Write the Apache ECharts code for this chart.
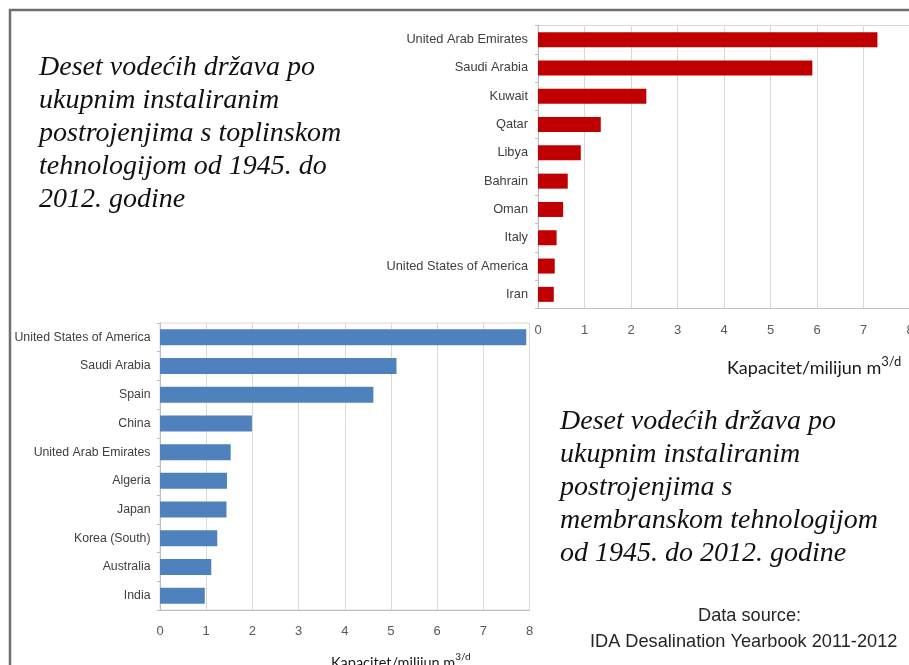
<!DOCTYPE html>
<html>
<head>
<meta charset="utf-8">
<script src="https://cdn.jsdelivr.net/npm/echarts@6.0.0/dist/echarts.min.js"></script>
<style>
html, body { margin: 0; padding: 0; background: #fff; }
#chart { width: 909px; height: 665px; }
</style>
</head>
<body>
<div id="chart"></div>
<script>
// top chart: thermal plants (red), bottom chart: membrane plants (blue)
const thermalCountries = ['United Arab Emirates', 'Saudi Arabia', 'Kuwait', 'Qatar', 'Libya', 'Bahrain', 'Oman', 'Italy', 'United States of America', 'Iran'];
const thermalCapacity = [7.30, 5.90, 2.33, 1.35, 0.92, 0.64, 0.54, 0.40, 0.36, 0.34];

const membraneCountries = ['United States of America', 'Saudi Arabia', 'Spain', 'China', 'United Arab Emirates', 'Algeria', 'Japan', 'Korea (South)', 'Australia', 'India'];
const membraneCapacity = [7.93, 5.12, 4.62, 1.99, 1.53, 1.45, 1.44, 1.24, 1.11, 0.97];

const capacityTicks = [0, 1, 2, 3, 4, 5, 6, 7, 8];

const thermalCaption = ['Deset vodećih država po', 'ukupnim instaliranim', 'postrojenjima s toplinskom', 'tehnologijom od 1945. do', '2012. godine'];
const membraneCaption = ['Deset vodećih država po', 'ukupnim instaliranim', 'postrojenjima s', 'membranskom tehnologijom', 'od 1945. do 2012. godine'];

const serifFont = '"Liberation Serif", serif';
const sansFont = '"Liberation Sans", Arial, sans-serif';
const nameFont = 'Lato, "Open Sans", sans-serif';

function valueAxis(gridIndex, margin) {
    return {
        type: 'value',
        gridIndex: gridIndex,
        min: capacityTicks[0],
        max: capacityTicks[capacityTicks.length - 1],
        interval: 1,
        axisLine: { show: true, lineStyle: { color: '#bfbfbf' } },
        axisTick: { show: false },
        axisLabel: { color: '#595959', fontFamily: sansFont, fontSize: 13, margin: margin },
        splitLine: { show: true, lineStyle: { color: '#d9d9d9' } }
    }
}

function categoryAxis(gridIndex, data, fontSize, margin) {
    return {
        type: 'category',
        gridIndex: gridIndex,
        data: data,
        inverse: true,
        axisLine: { show: true, lineStyle: { color: '#bfbfbf' } },
        axisTick: { show: true, length: 3, lineStyle: { color: '#bfbfbf' } },
        axisLabel: { color: '#404040', fontFamily: sansFont, fontSize: fontSize, margin: margin },
        splitLine: { show: false }
    }
}

const echartEl = document.getElementById('chart')
const echartInstance = echarts.init(echartEl, null, { renderer: 'canvas' })

const option = {
    animation: false,
    backgroundColor: '#fff',
    grid: [
        { left: 538, top: 25.5, width: 372, height: 283, outerBoundsMode: 'none', containLabel: false, show: true, borderColor: '#d9d9d9', borderWidth: 1 },
        { left: 160, top: 323, width: 369.5, height: 287, outerBoundsMode: 'none', containLabel: false, show: true, borderColor: '#d9d9d9', borderWidth: 1 }
    ],
    xAxis: [valueAxis(0, 15.5), valueAxis(1, 14.5)],
    yAxis: [
        categoryAxis(0, thermalCountries, 12.8, 10),
        categoryAxis(1, membraneCountries, 12.3, 9.5)
    ],
    series: [
        {
            name: 'toplinska',
            type: 'bar',
            xAxisIndex: 0,
            yAxisIndex: 0,
            barWidth: 15,
            itemStyle: { color: '#c00000' },
            data: thermalCapacity
        },
        {
            name: 'membranska',
            type: 'bar',
            xAxisIndex: 1,
            yAxisIndex: 1,
            barWidth: 16,
            itemStyle: { color: '#4f81bd' },
            data: membraneCapacity
        }
    ],
    graphic: [
        {
            type: 'polyline',
            shape: { points: [[10, 665], [10, 10], [909, 10]] },
            style: { stroke: '#6f6f6f', lineWidth: 2.5, fill: null }
        },
        {
            type: 'text',
            left: 39,
            top: 51,
            style: {
                text: thermalCaption.join('\n'),
                fontFamily: serifFont, fontStyle: 'italic', fontSize: 28, lineHeight: 33,
                fill: '#111'
            }
        },
        {
            type: 'text',
            left: 560,
            top: 405,
            style: {
                text: membraneCaption.join('\n'),
                fontFamily: serifFont, fontStyle: 'italic', fontSize: 28, lineHeight: 33,
                fill: '#111'
            }
        },
        {
            type: 'text',
            left: 727,
            top: 355,
            style: {
                text: '{a|Kapacitet/milijun m}{b|3/d}',
                rich: {
                    a: { fontFamily: nameFont, fontSize: 18, fill: '#1a1a1a', lineHeight: 22, verticalAlign: 'bottom' },
                    b: { fontFamily: nameFont, fontSize: 13, fill: '#1a1a1a', lineHeight: 22, verticalAlign: 'top' }
                }
            }
        },
        {
            type: 'text',
            left: 331,
            top: 652,
            style: {
                text: '{a|Kapacitet/milijun m}{b|3/d}',
                rich: {
                    a: { fontFamily: nameFont, fontSize: 14.5, fill: '#1a1a1a', lineHeight: 19, verticalAlign: 'bottom' },
                    b: { fontFamily: nameFont, fontSize: 10, fill: '#1a1a1a', lineHeight: 19, verticalAlign: 'top' }
                }
            }
        },
        {
            type: 'text',
            left: 698,
            top: 607,
            style: { text: 'Data source:', fontFamily: sansFont, fontSize: 18.2, fill: '#262626' }
        },
        {
            type: 'text',
            left: 590,
            top: 633,
            style: { text: 'IDA Desalination Yearbook 2011-2012', fontFamily: sansFont, fontSize: 18.2, fill: '#262626' }
        }
    ]
};
echartInstance.setOption(option);
</script>
</body>
</html>
